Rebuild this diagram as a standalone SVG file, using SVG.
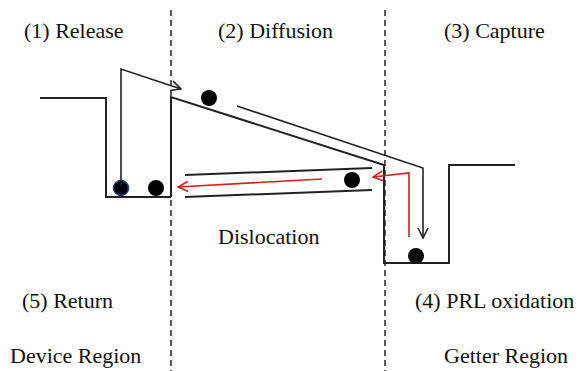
<svg xmlns="http://www.w3.org/2000/svg" width="579" height="371" viewBox="0 0 579 371">
<defs>
<style>
.lbl{font-family:"Times New Roman","Liberation Serif",serif;font-size:22px;fill:#111}
</style>
<marker id="ak" viewBox="0 0 12 12" refX="11" refY="6" markerWidth="12" markerHeight="12" markerUnits="userSpaceOnUse" orient="auto"><path d="M1,1 L11,6 L1,11" fill="none" stroke="#222" stroke-width="1.6"/></marker>
<marker id="ar" viewBox="0 0 12 12" refX="11" refY="6" markerWidth="12" markerHeight="12" markerUnits="userSpaceOnUse" orient="auto"><path d="M1,1 L11,6 L1,11" fill="none" stroke="#d42020" stroke-width="1.6"/></marker>
</defs>
<rect width="579" height="371" fill="#fff"/>
<g id="dividers" fill="none" stroke="#222" stroke-width="1.5" stroke-dasharray="6 4">
<line x1="171" y1="10" x2="171" y2="371"/>
<line x1="385" y1="10" x2="385" y2="371"/>
</g>
<g id="band" fill="none" stroke="#222" stroke-width="2">
<polyline points="40,98 106,98 106,197 171,197"/>
<polyline points="171,197 171,97 384,165 384,263 449,263 449,165 515,165"/>
<line x1="185" y1="175" x2="372" y2="168"/>
<line x1="185" y1="197" x2="372" y2="190"/>
</g>
<g id="particles" fill="#000">
<circle cx="121" cy="188" r="7.5" stroke="#1a3a8a" stroke-width="1.5"/>
<circle cx="156" cy="188" r="8"/>
<circle cx="209" cy="98" r="8"/>
<circle cx="352" cy="180" r="8"/>
<circle cx="416" cy="256" r="8"/>
</g>
<g id="connectors" fill="none" stroke-width="1.6">
<polyline stroke="#222" points="121,186 121,69 181,89" marker-end="url(#ak)"/>
<polyline stroke="#222" points="237,106 423,168 423,238" marker-end="url(#ak)"/>
<line stroke="#d42020" x1="322" y1="179" x2="178" y2="187" marker-end="url(#ar)"/>
<polyline stroke="#d42020" points="409,237 409,173 373,177" marker-end="url(#ar)"/>
</g>
<g id="labels">
<text class="lbl" x="24" y="38">(1) Release</text>
<text class="lbl" x="218" y="38">(2) Diffusion</text>
<text class="lbl" x="444" y="38">(3) Capture</text>
<text class="lbl" x="218" y="244">Dislocation</text>
<text class="lbl" x="22" y="308">(5) Return</text>
<text class="lbl" x="415" y="308">(4) PRL oxidation</text>
<text class="lbl" x="10" y="363">Device Region</text>
<text class="lbl" x="444" y="363">Getter Region</text>
</g>
</svg>
